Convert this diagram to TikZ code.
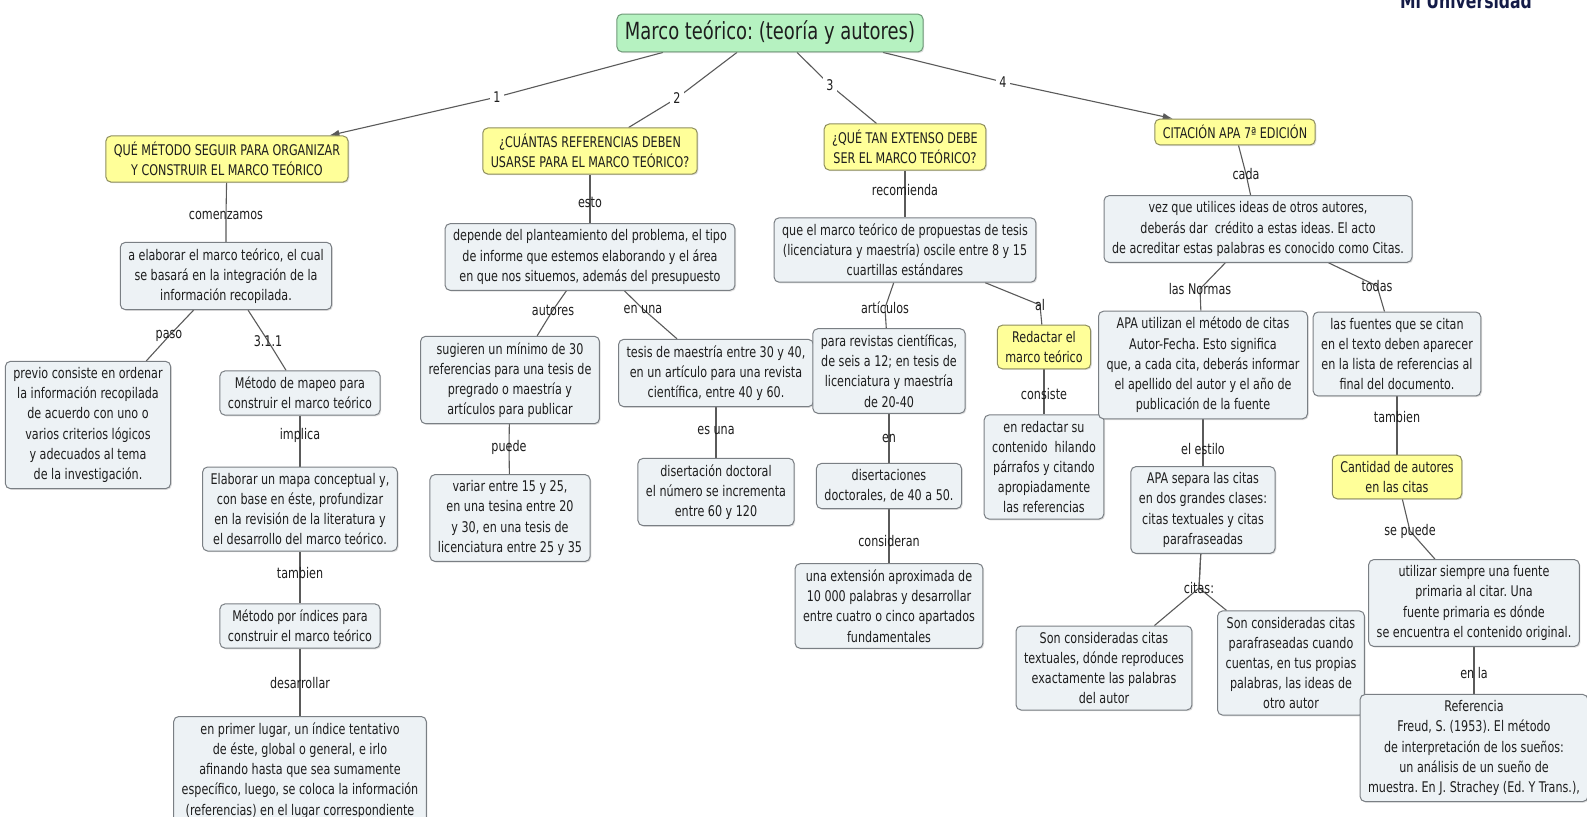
\documentclass[tikz,border=0pt]{standalone}
\usepackage{fontspec}
\setmainfont{DejaVu Sans}[FakeStretch=0.76]
\frenchspacing
\usetikzlibrary{arrows.meta,backgrounds,shadows}
\definecolor{cfill}{HTML}{EDF2F5}
\definecolor{cdraw}{HTML}{7A7F84}
\definecolor{yfill}{HTML}{FFFF99}
\definecolor{ydraw}{HTML}{8E8E5E}
\definecolor{gfill}{HTML}{B6F2C1}
\definecolor{gdraw}{HTML}{6F9A78}
\definecolor{lcol}{HTML}{5A5A5A}
\definecolor{navy}{HTML}{141B47}
\definecolor{tcol}{HTML}{1E1E1E}
\tikzset{
  txt/.style={font=\fontsize{7.35}{10.1}\selectfont, text=tcol},
  concept/.style={txt, draw=cdraw, fill=cfill, rounded corners=2.5pt, align=center,
    inner xsep=4pt, inner ysep=3pt, line width=0.5pt,
    drop shadow={shadow xshift=0.6pt, shadow yshift=-0.6pt, opacity=0.25}},
  yconcept/.style={concept, draw=ydraw, fill=yfill},
  lab/.style={txt, inner sep=1pt},
  num/.style={lab, fill=white, inner sep=1.5pt},
  conn/.style={draw=lcol, line width=0.55pt},
  tip/.style={-{Latex[length=5pt,width=3.5pt]}},
}
\begin{document}
\begin{tikzpicture}[x=0.5pt,y=-0.5pt]
\useasboundingbox (0,0) rectangle (1587,816);
\clip (0,0) rectangle (1587,816);
% header
\node[font=\bfseries\fontsize{10.3}{12}\selectfont, text=navy, anchor=base, inner sep=0] (uni) at (1466,8) {Mi Universidad};
\node[concept, fill=gfill, draw=gdraw, font=\fontsize{11.8}{14}\selectfont, inner ysep=3.5pt] (title) at (770,33) {Marco teórico: (teoría y autores)};
\node[num] (n1) at (497,97) {1};
\node[num] (n2) at (677,98) {2};
\node[num] (n3) at (830,85) {3};
\node[num] (n4) at (1003,82) {4};
% main questions
\node[yconcept] (b1) at (227,159) {QUÉ MÉTODO SEGUIR PARA ORGANIZAR\\Y CONSTRUIR EL MARCO TEÓRICO};
\node[yconcept] (b2) at (590,151) {¿CUÁNTAS REFERENCIAS DEBEN\\USARSE PARA EL MARCO TEÓRICO?};
\node[yconcept] (b3) at (905,147) {¿QUÉ TAN EXTENSO DEBE\\SER EL MARCO TEÓRICO?};
\node[yconcept] (b4) at (1235,132) {CITACIÓN APA 7ª EDICIÓN};
% column 1
\node[lab] (lcom) at (226,215) {comenzamos};
\node[concept] (c1) at (226,276) {a elaborar el marco teórico, el cual\\se basará en la integración de la\\información recopilada.};
\node[lab] (lpaso) at (169,336) {paso};
\node[lab] (l311) at (268,341) {3.1.1};
\node[concept] (c1a) at (88,425) {previo consiste en ordenar\\la información recopilada\\de acuerdo con uno o\\varios criterios lógicos\\y adecuados al tema\\de la investigación.};
\node[concept] (c1b) at (300,393) {Método de mapeo para\\construir el marco teórico};
\node[lab] (limp) at (300,435) {implica};
\node[concept] (c1c) at (300,509) {Elaborar un mapa conceptual y,\\con base en éste, profundizar\\en la revisión de la literatura y\\el desarrollo del marco teórico.};
\node[lab] (ltam) at (300,573) {tambien};
\node[concept] (c1d) at (300,626) {Método por índices para\\construir el marco teórico};
\node[lab] (ldes) at (300,683) {desarrollar};
\node[concept, anchor=north] (c1e) at (300,716) {en primer lugar, un índice tentativo\\de éste, global o general, e irlo\\afinando hasta que sea sumamente\\específico, luego, se coloca la información\\(referencias) en el lugar correspondiente\\\strut};
% column 2
\node[lab] (lesto) at (590,202) {esto};
\node[concept] (c2) at (590,257) {depende del planteamiento del problema, el tipo\\de informe que estemos elaborando y el área\\en que nos situemos, además del presupuesto};
\node[lab] (laut) at (553,310) {autores};
\node[lab] (lenuna) at (643,309) {en una};
\node[concept] (c2a) at (510,380) {sugieren un mínimo de 30\\referencias para una tesis de\\pregrado o maestría y\\artículos para publicar};
\node[concept] (c2b) at (716,373) {tesis de maestría entre 30 y 40,\\en un artículo para una revista\\científica, entre 40 y 60.};
\node[lab] (lpuede) at (509,447) {puede};
\node[concept] (c2c) at (510,518) {variar entre 15 y 25,\\en una tesina entre 20\\y 30, en una tesis de\\licenciatura entre 25 y 35};
\node[lab] (lesuna) at (716,430) {es una};
\node[concept] (c2d) at (716,492) {disertación doctoral\\el número se incrementa\\entre 60 y 120};
% column 3
\node[lab] (lrec) at (905,190) {recomienda};
\node[concept] (c3) at (905,250) {que el marco teórico de propuestas de tesis\\(licenciatura y maestría) oscile entre 8 y 15\\cuartillas estándares};
\node[lab] (lart) at (885,308) {artículos};
\node[lab] (lal) at (1040,305) {al};
\node[concept] (c3a) at (889,371) {para revistas científicas,\\de seis a 12; en tesis de\\licenciatura y maestría\\de 20-40};
\node[yconcept] (b3b) at (1044,347) {Redactar el\\marco teórico};
\node[lab] (len) at (889,438) {en};
\node[lab] (lcons) at (1044,394) {consiste};
\node[concept] (c3b) at (889,486) {disertaciones\\doctorales, de 40 a 50.};
\node[concept] (c3c) at (1044,467) {en redactar su\\contenido\ \ hilando\\párrafos y citando\\apropiadamente\\las referencias};
\node[lab] (lconsid) at (889,541) {consideran};
\node[concept] (c3d) at (889,606) {una extensión aproximada de\\10 000 palabras y desarrollar\\entre cuatro o cinco apartados\\fundamentales};
% column 4
\node[lab] (lcada) at (1246,174) {cada};
\node[concept] (c4) at (1258,229) {vez que utilices ideas de otros autores,\\deberás dar\ \ crédito a estas ideas. El acto\\de acreditar estas palabras es conocido como Citas.};
\node[lab] (lnorm) at (1200,289) {las Normas};
\node[lab] (ltodas) at (1377,286) {todas};
\node[concept] (c4a) at (1203,365) {APA utilizan el método de citas\\Autor-Fecha. Esto significa\\que, a cada cita, deberás informar\\el apellido del autor y el año de\\publicación de la fuente};
\node[concept] (c4b) at (1397,354) {las fuentes que se citan\\en el texto deben aparecer\\en la lista de referencias al\\final del documento.};
\node[lab] (lest) at (1203,449) {el estilo};
\node[lab] (ltam2) at (1397,417) {tambien};
\node[concept] (c4c) at (1203,510) {APA separa las citas\\en dos grandes clases:\\citas textuales y citas\\parafraseadas};
\node[yconcept] (b4d) at (1397,477) {Cantidad de autores\\en las citas};
\node[lab] (lcitas) at (1199,588) {citas:};
\node[lab] (lsep) at (1410,531) {se puede};
\node[concept] (c4e) at (1104,668) {Son consideradas citas\\textuales, dónde reproduces\\exactamente las palabras\\del autor};
\node[concept] (c4f) at (1291,663) {Son consideradas citas\\parafraseadas cuando\\cuentas, en tus propias\\palabras, las ideas de\\otro autor};
\node[concept] (c4g) at (1474,603) {utilizar siempre una fuente\\primaria al citar. Una\\fuente primaria es dónde\\se encuentra el contenido original.};
\node[lab] (lenla) at (1474,673) {en la};
\node[concept] (c4h) at (1474,748) {Referencia\\Freud, S. (1953). El método\\de interpretación de los sueños:\\un análisis de un sueño de\\muestra. En J. Strachey (Ed. Y Trans.),};
% connectors
\begin{scope}[on background layer]
\fill[white] (0,0) rectangle (1587,816);
\draw[conn,tip] ([xshift=-53.5pt]title.south) -- (n1.center) -- (b1);
\draw[conn] ([xshift=-16.5pt]title.south) -- (n2.center) -- (b2);
\draw[conn] ([xshift=13.5pt]title.south) -- (n3.center) -- (b3);
\draw[conn,tip] ([xshift=56.5pt]title.south) -- (n4.center) -- (b4);
\draw[conn] (b1) -- (lcom.center) -- (c1);
\draw[conn] (c1) -- (lpaso.center) -- (c1a);
\draw[conn] (c1) -- (l311.center) -- (c1b);
\draw[conn] (c1b) -- (limp.center) -- (c1c);
\draw[conn] (c1c) -- (ltam.center) -- (c1d);
\draw[conn] (c1d) -- (ldes.center) -- (c1e);
\draw[conn] (b2) -- (lesto.center) -- (c2);
\draw[conn] (c2) -- (laut.center) -- (c2a);
\draw[conn] (c2) -- (lenuna.center) -- (c2b);
\draw[conn] (c2a) -- (lpuede.center) -- (c2c);
\draw[conn] (c2b) -- (lesuna.center) -- (c2d);
\draw[conn] (b3) -- (lrec.center) -- (c3);
\draw[conn] (c3) -- (lart.center) -- (c3a);
\draw[conn] (c3) -- (lal.center) -- (b3b);
\draw[conn] (c3a) -- (len.center) -- (c3b);
\draw[conn] (b3b) -- (lcons.center) -- (c3c);
\draw[conn] (c3b) -- (lconsid.center) -- (c3d);
\draw[conn] (b4) -- (lcada.center) -- (c4);
\draw[conn] (c4) -- (lnorm.center) -- (c4a);
\draw[conn] (c4) -- (ltodas.center) -- (c4b);
\draw[conn] (c4a) -- (lest.center) -- (c4c);
\draw[conn] (c4b) -- (ltam2.center) -- (b4d);
\draw[conn] (c4c) -- (lcitas.center) -- (c4e);
\draw[conn] (c4c) -- (lcitas.center) -- (c4f);
\draw[conn] (b4d) -- (lsep.center) -- (c4g);
\draw[conn] (c4g) -- (lenla.center) -- (c4h);
\end{scope}
\end{tikzpicture}
\end{document}
